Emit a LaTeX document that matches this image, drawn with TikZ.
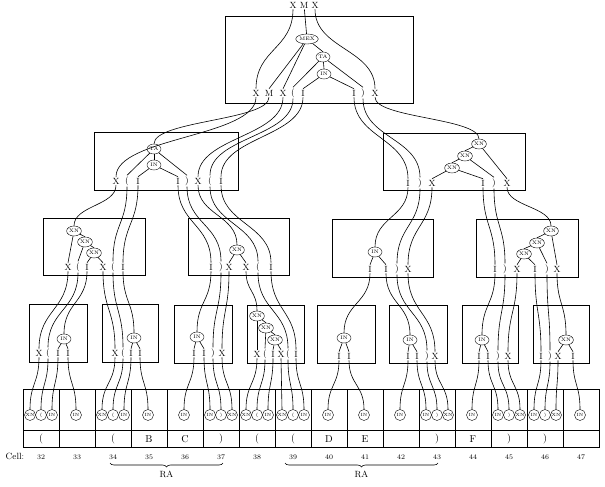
\documentclass[tikz,border=0pt]{standalone}
\usepackage{tikz}
\usetikzlibrary{positioning, calc, shapes.geometric, decorations.pathreplacing}

\begin{document}
\begin{tikzpicture}[x=1pt, y=-1pt,
    box/.style={draw, line width=0.9pt},
    lab/.style={inner sep=1pt, font=\small},
    op/.style={draw, ellipse, inner sep=0.3pt, minimum width=14pt, minimum height=10pt, font=\tiny},
    tok/.style={draw, circle, inner sep=0pt, minimum size=11pt, font=\fontsize{4.5}{4.5}\selectfont},
    link/.style={line width=0.6pt},
    wire/.style={line width=0.6pt, to path={.. controls ($(\tikztostart)!0.5!(\tikztostart|-\tikztotarget)$) and ($(\tikztotarget)!0.5!(\tikztotarget|-\tikztostart)$) .. (\tikztotarget)}}]
    \useasboundingbox (0,0) rectangle (605,487);

    % Top box
    \draw[box] (225,16) rectangle (413,103);
    \node[lab] (in1) at (293,5) {X};
    \node[lab] (in2) at (304,5) {M};
    \node[lab] (in3) at (315,5) {X};
    \node[op] (mex) at (307,39) {MEX};
    \node[op] (ta) at (323,57) {TA};
    \node[op] (tin) at (324,74) {IN};
    \foreach \n/\x/\s in {1/256/X, 2/269/M, 3/283/X, 4/293/{(}, 5/303/I, 6/354/I, 7/363/{)}, 8/375/X}
        \node[lab] (t\n) at (\x,93) {\s};
    \draw[wire] (in1.south) to (t1.north);
    \draw[link] (in2) -- (mex);
    \draw[wire] (in3.south) to (t8.north);
    \foreach \a/\b in {mex/t2, mex/t3, mex/ta, ta/t4, ta/t7, ta/tin, tin/t5, tin/t6}
        \draw[link] (\a) -- (\b.north);

    % Second row
    \draw[box] (94,132) rectangle (238,190);
    \node[op] (bta) at (154,149) {TA};
    \node[op] (bin) at (154,165) {IN};
    \foreach \n/\x/\s in {1/116/X, 2/127/{(}, 3/138/I, 4/178/I, 5/187/{)}, 6/198/X, 7/210/{(}, 8/221/I}
        \node[lab] (b\n) at (\x,181) {\s};
    \draw[box] (383,133) rectangle (525,190);
    \node[op] (cx1) at (479,144) {XN};
    \node[op] (cx2) at (465,156) {XN};
    \node[op] (cx3) at (452,168) {XN};
    \foreach \n/\x/\s in {1/408/I, 2/420/{)}, 3/432/X, 4/483/I, 5/494/{)}, 6/507/X}
        \node[lab] (c\n) at (\x,183) {\s};
    \foreach \a/\b in {bta/b2, bta/b5, bta/bin, bin/b3, bin/b4,
                       cx1/cx2, cx1/c6, cx2/cx3, cx2/c5, cx3/c3, cx3/c4}
        \draw[link] (\a) -- (\b.north);
    \foreach \a/\b in {t1/b1, t2/bta, t3/b6, t4/b7, t5/b8, t6/c1, t7/c2, t8/cx1}
        \draw[wire] (\a.south) to (\b.north);

    % Third row
    \draw[box] (43,218) rectangle (145,275);
    \node[op] (dx1) at (74,231) {XN};
    \node[op] (dx2) at (85,242) {XN};
    \node[op] (dx3) at (94,253) {XN};
    \foreach \n/\x/\s in {1/68/X, 2/78/{(}, 3/87/I, 4/103/X, 5/113/{(}, 6/123/I}
        \node[lab] (d\n) at (\x,267) {\s};
    \draw[box] (188,218) rectangle (289,275);
    \node[op] (ex) at (237,250) {XN};
    \foreach \n/\x/\s in {1/211/I, 2/221/{)}, 3/229/X, 4/246/X, 5/258/{(}, 6/271/I}
        \node[lab] (e\n) at (\x,267) {\s};
    \draw[box] (332,219) rectangle (433,277);
    \node[op] (fin) at (375,252) {IN};
    \foreach \n/\x/\s in {1/370/I, 2/386/I, 3/397/{)}, 4/408/X}
        \node[lab] (f\n) at (\x,269) {\s};
    \draw[box] (476,219) rectangle (578,277);
    \node[op] (gx1) at (551,231) {XN};
    \node[op] (gx2) at (537,243) {XN};
    \node[op] (gx3) at (524,254) {XN};
    \foreach \n/\x/\s in {1/495/I, 2/505/{)}, 3/517/X, 4/535/I, 5/547/{)}, 6/557/X}
        \node[lab] (g\n) at (\x,269) {\s};
    \foreach \a/\b in {dx1/dx2, dx1/d1, dx2/dx3, dx2/d2, dx3/d3, dx3/d4, ex/e3, ex/e4,
                       fin/f1, fin/f2, gx1/gx2, gx1/g6, gx2/gx3, gx2/g5, gx3/g3, gx3/g4}
        \draw[link] (\a) -- (\b.north);
    \foreach \a/\b in {b1/dx1, b2/d5, b3/d6, b4/e1, b5/e2, b6/ex, b7/e5, b8/e6,
                       c1/fin, c2/f3, c3/f4, c4/g1, c5/g2, c6/gx1}
        \draw[wire] (\a.south) to (\b.north);

    % Fourth row
    \draw[box] (29,304) rectangle (87,362);
    \node[op] (hin) at (64,339) {IN};
    \foreach \n/\x/\s in {1/39/X, 2/48/{(}, 3/58/I, 4/68/I}
        \node[lab] (h\n) at (\x,353) {\s};
    \draw[box] (102,304) rectangle (158,362);
    \node[op] (iin) at (134,338) {IN};
    \foreach \n/\x/\s in {1/115/X, 2/123/{(}, 3/131/I, 4/140/I}
        \node[lab] (i\n) at (\x,353) {\s};
    \draw[box] (174,305) rectangle (232,363);
    \node[op] (jin) at (197,337) {IN};
    \foreach \n/\x/\s in {1/194/I, 2/204/I, 3/213/{)}, 4/222/X}
        \node[lab] (j\n) at (\x,353) {\s};
    \draw[box] (247,305) rectangle (304,363);
    \node[op] (kx1) at (257,316) {XN};
    \node[op] (kx2) at (266,328) {XN};
    \node[op] (kx3) at (275,340) {XN};
    \foreach \n/\x/\s in {1/257/X, 2/265/{(}, 3/273/I, 4/281/X, 5/288/{(}, 6/296/I}
        \node[lab] (k\n) at (\x,354) {\s};
    \draw[box] (317,305) rectangle (375,363);
    \node[op] (lin) at (344,338) {IN};
    \foreach \n/\x/\s in {1/339/I, 2/349/I}
        \node[lab] (l\n) at (\x,356) {\s};
    \draw[box] (389,305) rectangle (447,363);
    \node[op] (min) at (410,340) {IN};
    \foreach \n/\x/\s in {1/408/I, 2/417/I, 3/427/{)}, 4/435/X}
        \node[lab] (m\n) at (\x,356) {\s};
    \draw[box] (462,305) rectangle (518,363);
    \node[op] (nin) at (482,340) {IN};
    \foreach \n/\x/\s in {1/479/I, 2/488/I, 3/498/{)}, 4/508/X}
        \node[lab] (n\n) at (\x,356) {\s};
    \draw[box] (533,305) rectangle (589,363);
    \node[op] (ox) at (566,340) {XN};
    \foreach \n/\x/\s in {1/541/I, 2/550/{)}, 3/558/X, 4/573/I}
        \node[lab] (o\n) at (\x,356) {\s};
    \foreach \a/\b in {hin/h3, hin/h4, iin/i3, iin/i4, jin/j1, jin/j2,
                       kx1/kx2, kx1/k1, kx2/kx3, kx2/k2, kx3/k3, kx3/k4,
                       lin/l1, lin/l2, min/m1, min/m2, nin/n1, nin/n2, ox/o3, ox/o4}
        \draw[link] (\a) -- (\b.north);
    \foreach \a/\b in {d1/h1, d2/h2, d3/hin, d4/i1, d5/i2, d6/iin,
                       e1/jin, e2/j3, e3/j4, e4/kx1, e5/k5, e6/k6,
                       f1/lin, f2/min, f3/m3, f4/m4,
                       g1/nin, g2/n3, g3/n4, g4/o1, g5/o2, g6/ox}
        \draw[wire] (\a.south) to (\b.north);

    % Cells
    \foreach \c/\s [count=\i from 0] in {32/{(}, 33/{}, 34/{(}, 35/B, 36/C, 37/{)}, 38/{(}, 39/{(},
                                        40/D, 41/E, 42/{}, 43/{)}, 44/F, 45/{)}, 46/{)}, 47/{}} {
        \draw[box] (23+36*\i,389) rectangle (59+36*\i,447);
        \draw[box] (23+36*\i,430) -- (59+36*\i,430);
        \node[font=\normalsize] (s\c) at (41+36*\i,439) {\s};
        \node[font=\scriptsize] (n\c) at (41+36*\i,457) {\c};
    }
    \node[font=\small] (cell) at (15,456) {Cell:};
    \foreach \n/\x/\s in {32a/30/XN, 32b/41/{(}, 32c/52/IN, 33a/76/IN,
                          34a/102/XN, 34b/113/{(}, 34c/124/IN, 35a/148/IN,
                          36a/184/IN, 37a/210/IN, 37b/221/{)}, 37c/232/XN,
                          38a/246/XN, 38b/257/{(}, 38c/268/IN, 39a/282/XN, 39b/293/{(}, 39c/304/IN,
                          40a/328/IN, 41a/364/IN, 42a/400/IN, 43a/426/IN, 43b/437/{)}, 43c/448/XN,
                          44a/472/IN, 45a/498/IN, 45b/509/{)}, 45c/520/XN,
                          46a/534/IN, 46b/545/{)}, 46c/556/XN, 47a/580/IN}
        \node[tok] (q\n) at (\x,415) {\s};
    \foreach \a/\b in {h1/32a, h2/32b, h3/32c, h4/33a, i1/34a, i2/34b, i3/34c, i4/35a,
                       j1/36a, j2/37a, j3/37b, j4/37c,
                       k1/38a, k2/38b, k3/38c, k4/39a, k5/39b, k6/39c,
                       l1/40a, l2/41a, m1/42a, m2/43a, m3/43b, m4/43c,
                       n1/44a, n2/45a, n3/45b, n4/45c, o1/46a, o2/46b, o3/46c, o4/47a}
        \draw[wire] (\a.south) to (q\b.north);

    % Braces
    \draw[link, decorate, decoration={brace, mirror, amplitude=4pt}] (110,463) -- (223,463)
        node[midway, below=4pt, font=\small] (ra1) {RA};
    \draw[link, decorate, decoration={brace, mirror, amplitude=4pt}] (285,463) -- (438,463)
        node[midway, below=4pt, font=\small] (ra2) {RA};
\end{tikzpicture}
\end{document}
